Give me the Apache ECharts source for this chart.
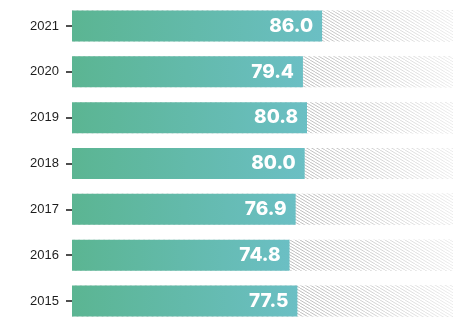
<!DOCTYPE html>
<html>
<head>
<meta charset="utf-8">
<style>
  html, body { margin: 0; padding: 0; background: #ffffff; }
  #chart { width: 465px; height: 325px; }
</style>
<script src="https://cdn.jsdelivr.net/npm/echarts@6/dist/echarts.min.js"></script>
</head>
<body>
<div id="chart"></div>
<script>
// Yearly scores, listed bottom (2015) to top (2021)
const years = ['2015', '2016', '2017', '2018', '2019', '2020', '2021'];
const scores = [77.5, 74.8, 76.9, 80.0, 80.8, 79.4, 86.0];
const scaleMax = 131;

// Diagonal hatch tile used for the track behind each bar
function hatchTile() {
  const w = 10, h = 6;
  const c = document.createElement('canvas');
  c.width = w; c.height = h;
  const ctx = c.getContext('2d');
  ctx.strokeStyle = 'rgba(160,160,160,0.85)';
  ctx.lineWidth = 0.9;
  for (const dx of [-w, -w / 2, 0, w / 2, w]) {
    ctx.beginPath();
    ctx.moveTo(dx, 0);
    ctx.lineTo(dx + w, h);
    ctx.stroke();
  }
  return c;
}

const chart = echarts.init(document.getElementById('chart'), null, { renderer: 'canvas' });
const track = years.map(() => scaleMax);

chart.setOption({
  animation: false,
  grid: { left: 72, right: 12, top: 3, bottom: 1, containLabel: false },
  xAxis: {
    type: 'value', min: 0, max: scaleMax, show: false
  },
  yAxis: {
    type: 'category',
    data: years,
    offset: 2,
    z: 10,
    axisLine: { show: false },
    axisTick: { show: true, length: 6, alignWithLabel: true, lineStyle: { color: '#222', width: 1.6 } },
    axisLabel: { margin: 11, color: '#1e1e1e', fontSize: 13, fontFamily: 'Liberation Sans, Arial, sans-serif' }
  },
  series: [
    {
      type: 'bar', data: track, barWidth: 31, barGap: '-100%', silent: true,
      itemStyle: { color: { image: hatchTile(), repeat: 'repeat' } }
    },
    {
      type: 'bar', data: track, barWidth: 31, barGap: '-100%', silent: true,
      itemStyle: {
        color: new echarts.graphic.LinearGradient(0, 0, 1, 0, [
          { offset: 0, color: 'rgba(255,255,255,0)' },
          { offset: 0.6, color: 'rgba(255,255,255,0.1)' },
          { offset: 1, color: 'rgba(255,255,255,0.75)' }
        ])
      }
    },
    {
      type: 'bar', data: scores, barWidth: 31, barGap: '-100%',
      itemStyle: {
        color: new echarts.graphic.LinearGradient(0, 0, 1, 0, [
          { offset: 0, color: '#5bb592' },
          { offset: 1, color: '#6bbfc4' }
        ])
      },
      label: {
        show: true,
        position: 'insideRight',
        distance: 9,
        formatter: p => p.value.toFixed(1),
        color: '#ffffff',
        fontSize: 19,
        fontWeight: 800,
        fontFamily: 'Inter, Montserrat, sans-serif'
      }
    }
  ]
});
</script>
</body>
</html>
